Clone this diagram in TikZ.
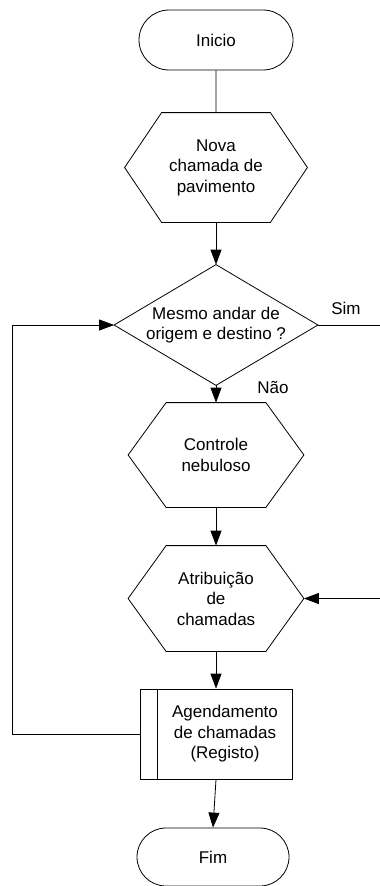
\documentclass[tikz,border=0pt]{standalone}
\usepackage{fontspec}
\setmainfont{Liberation Sans}
\usetikzlibrary{shapes.misc, arrows.meta}

\tikzset{
    terminal/.style={rounded rectangle, draw, inner sep=0pt, minimum width=154pt, minimum height=60pt},
    hexnode/.style={inner sep=0pt, align=center},
    procbox/.style={draw, inner sep=0pt, minimum width=152pt, minimum height=90pt}
}

\begin{document}
\begin{tikzpicture}[x=1pt, y=-1pt, line width=0.8pt,
        font=\fontsize{17}{20.5}\selectfont,
        >={Triangle[length=15pt, width=11pt]}]
        \useasboundingbox (0,0) rectangle (380,886);

        % Start and end
        \node[terminal] (inicio) at (216,40) {Inicio};
        \node[terminal, minimum width=152pt, minimum height=58pt] (fim) at (213,857) {Fim};

        % Steps (hexagons are drawn below)
        \node[hexnode, minimum width=182pt, minimum height=109pt] (nova) at (216,167.5) {Nova\\chamada de\\pavimento};
        \node[hexnode, minimum width=175pt, minimum height=104pt] (controle) at (216,455) {Controle\\nebuloso};
        \node[hexnode, minimum width=175pt, minimum height=105pt] (atrib) at (216,598.5) {Atribuição\\de\\chamadas};

        % Decision
        \node[hexnode, minimum width=203pt, minimum height=120pt] (mesmo) at (216,325) {Mesmo andar de\\origem e destino ?};

        % Scheduling box
        \node[procbox] (agenda) at (216,734) {};
        \node[align=center] (agendatxt) at ([xshift=9pt]agenda.center) {Agendamento\\de chamadas\\(Registo)};

        % Branch labels
        \node (sim) at (346,308) {Sim};
        \node (nao) at (273,387) {Não};

        % Free ends and corners
        \coordinate (simend) at (380,325);
        \coordinate (retorno) at (380,598.5);
        \coordinate (laco1) at (12,734);
        \coordinate (laco2) at (12,325);

        % Draw hexagon outlines
        \foreach \h/\c in {nova/37, controle/38, atrib/38}
            \draw ([xshift=\c]\h.north west) -- ([xshift=-\c]\h.north east) -- (\h.east)
                -- ([xshift=-\c]\h.south east) -- ([xshift=\c]\h.south west) -- (\h.west) -- cycle;

        % Draw diamond outline
        \draw (mesmo.north) -- (mesmo.east) -- (mesmo.south) -- (mesmo.west) -- cycle;

        % Inner bar of the box
        \draw ([xshift=18pt]agenda.north west) -- ([xshift=18pt]agenda.south west);

        % Connectors
        \draw (inicio) -- (nova);
        \draw[->] (nova) -- (mesmo);
        \draw[->] (mesmo) -- (controle);
        \draw (mesmo.east) -- (simend);
        \draw[->] (controle) -- (atrib);
        \draw[->] (retorno) -- (atrib.east);
        \draw[->] (atrib) -- (agenda);
        \draw[->] (agenda.south) -- (fim.north);
        \draw[->] (agenda.west) -- (laco1) -- (laco2) -- (mesmo.west);

    \end{tikzpicture}
\end{document}
